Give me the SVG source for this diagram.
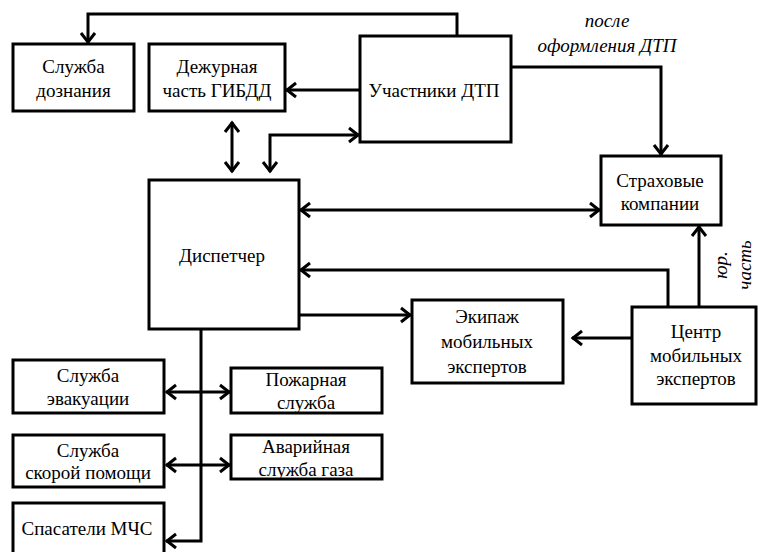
<svg xmlns="http://www.w3.org/2000/svg" width="758" height="552" viewBox="0 0 758 552">
<style>
.b{fill:#fff;stroke:#000;stroke-width:3}
.t{font-family:"Liberation Serif","Times New Roman",serif;font-size:19px;fill:#000;text-anchor:middle}
.i{font-style:italic}
.c{fill:none;stroke:#000;stroke-width:3}
</style>
<defs>
<marker id="a" markerUnits="userSpaceOnUse" markerWidth="20" markerHeight="20" viewBox="-13 -10 16 20" refX="0" refY="0" orient="auto-start-reverse">
<path d="M-10,-7 L-1,0 L-10,7" fill="none" stroke="#000" stroke-width="3"/>
</marker>
</defs>
<rect width="758" height="552" fill="#fff"/>
<g id="connectors">
<path class="c" d="M457,36 V14 H88 V43" marker-end="url(#a)"/>
<path class="c" d="M360,90 H286" marker-end="url(#a)"/>
<path class="c" d="M232,122 V172" marker-start="url(#a)" marker-end="url(#a)"/>
<path class="c" d="M270,172 V135 H359" marker-start="url(#a)" marker-end="url(#a)"/>
<path class="c" d="M511,67 H661 V155" marker-end="url(#a)"/>
<path class="c" d="M300,210 H600" marker-start="url(#a)" marker-end="url(#a)"/>
<path class="c" d="M668,307 V270 H300" marker-end="url(#a)"/>
<path class="c" d="M299,315 H411" marker-end="url(#a)"/>
<path class="c" d="M632,338 H572" marker-end="url(#a)"/>
<path class="c" d="M699,307 V226" marker-end="url(#a)"/>
<path class="c" d="M201,329 V541 H166" marker-end="url(#a)"/>
<path class="c" d="M166,392 H230" marker-start="url(#a)" marker-end="url(#a)"/>
<path class="c" d="M166,465 H230" marker-start="url(#a)" marker-end="url(#a)"/>
</g>
<g id="sluzhba-doznaniya"><rect class="b" x="13" y="44" width="121" height="67"/><text class="t" x="73.5" y="73">Служба</text><text class="t" x="73.5" y="97">дознания</text></g>
<g id="dezhurnaya"><rect class="b" x="149" y="44" width="136" height="67"/><text class="t" x="217" y="73">Дежурная</text><text class="t" x="217" y="97">часть ГИБДД</text></g>
<g id="uchastniki"><rect class="b" x="360" y="36" width="151" height="106"/><text class="t" x="434" y="97">Участники ДТП</text></g>
<g id="strahovye"><rect class="b" x="601" y="156" width="120" height="69"/><text class="t" x="660" y="187">Страховые</text><text class="t" x="660" y="210">компании</text></g>
<g id="dispetcher"><rect class="b" x="149" y="180" width="150" height="149"/><text class="t" x="222" y="262">Диспетчер</text></g>
<g id="ekipazh"><rect class="b" x="412" y="300" width="151" height="83"/><text class="t" x="487" y="323">Экипаж</text><text class="t" x="487" y="348">мобильных</text><text class="t" x="487" y="373">экспертов</text></g>
<g id="centr"><rect class="b" x="632" y="307" width="124" height="97"/><text class="t" x="696" y="338">Центр</text><text class="t" x="696" y="362">мобильных</text><text class="t" x="696" y="385">экспертов</text></g>
<g id="evakuaciya"><rect class="b" x="13" y="360" width="151" height="53"/><text class="t" x="88" y="382">Служба</text><text class="t" x="88" y="405">эвакуации</text></g>
<g id="pozharnaya"><rect class="b" x="231" y="368" width="151" height="45"/><text class="t" x="306" y="386">Пожарная</text><text class="t" x="306" y="409">служба</text></g>
<g id="skoraya"><rect class="b" x="13" y="435" width="151" height="52"/><text class="t" x="88" y="457">Служба</text><text class="t" x="88" y="479">скорой помощи</text></g>
<g id="avariynaya"><rect class="b" x="231" y="435" width="151" height="44"/><text class="t" x="306" y="453">Аварийная</text><text class="t" x="306" y="476">служба газа</text></g>
<g id="spasateli"><rect class="b" x="13" y="503" width="151" height="60"/><text class="t" x="87" y="535">Спасатели МЧС</text></g>
<g id="labels">
<text class="t i" x="607" y="27">после</text>
<text class="t i" x="607" y="52">оформления ДТП</text>
<text class="t i" transform="translate(727,265) rotate(-90)">юр.</text>
<text class="t i" transform="translate(751,265) rotate(-90)">часть</text>
</g>
</svg>
